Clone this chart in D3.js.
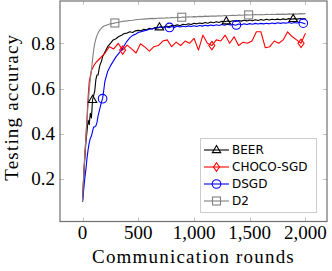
<!DOCTYPE html>
<html lang="en">
	<head>
		<meta charset="utf-8">
		<title>Testing accuracy</title>
		<script src="https://d3js.org/d3.v7.min.js"></script>
		<style type="text/css">
			body { margin: 0; background: #fff; }
			.tick-label { font-family: "Liberation Serif", serif; font-size: 19px; fill: #000; }
			.axis-title { font-family: "Liberation Serif", serif; font-size: 19px; letter-spacing: 1.2px; fill: #000; }
			.legend-text { font-family: "DejaVu Sans", sans-serif; font-size: 12px; fill: #000; }
		</style>
	</head>
	<body>
		<script type="text/javascript">

			//Rounds for BEER, DSGD and D2
			var rounds = [0, 10, 20, 30, 40, 50, 60, 70, 80, 90, 100, 110, 120, 130, 140, 150, 160, 170, 180, 190,
				200, 225, 250, 275, 300, 325, 350, 375, 400, 425, 450, 475, 500, 525, 550, 575, 600, 625, 650, 675,
				700, 725, 750, 775, 800, 825, 850, 875, 900, 925, 950, 975, 1000, 1025, 1050, 1075, 1100, 1125, 1150, 1175,
				1200, 1225, 1250, 1275, 1300, 1325, 1350, 1375, 1400, 1425, 1450, 1475, 1500, 1525, 1550, 1575, 1600, 1625, 1650, 1675,
				1700, 1725, 1750, 1775, 1800, 1825, 1850, 1875, 1900, 1925, 1950, 1975, 2000];

			var beer = [0.10, 0.20, 0.29, 0.36, 0.41, 0.46, 0.44, 0.49, 0.47, 0.55, 0.57, 0.59, 0.64, 0.66, 0.66, 0.69, 0.71, 0.72, 0.74, 0.75,
				0.76, 0.785, 0.80, 0.815, 0.82, 0.83, 0.836, 0.843, 0.845, 0.851, 0.848, 0.855, 0.857, 0.855, 0.862, 0.86, 0.866, 0.863, 0.87, 0.868,
				0.873, 0.871, 0.876, 0.873, 0.879, 0.877, 0.882, 0.878, 0.884, 0.882, 0.886, 0.883, 0.889, 0.886, 0.89, 0.887, 0.892, 0.889, 0.894, 0.891,
				0.895, 0.892, 0.897, 0.895, 0.899, 0.896, 0.90, 0.897, 0.901, 0.898, 0.902, 0.899, 0.903, 0.90, 0.904, 0.901, 0.905, 0.902, 0.906, 0.903,
				0.906, 0.904, 0.907, 0.904, 0.908, 0.905, 0.909, 0.906, 0.909, 0.907, 0.91, 0.907, 0.91];

			var dsgd = [0.10, 0.15, 0.20, 0.24, 0.29, 0.33, 0.36, 0.38, 0.39, 0.41, 0.43, 0.43, 0.435, 0.45, 0.48, 0.50, 0.52, 0.54, 0.555, 0.59,
				0.63, 0.675, 0.70, 0.72, 0.74, 0.755, 0.77, 0.79, 0.81, 0.825, 0.835, 0.84, 0.848, 0.851, 0.855, 0.858, 0.862, 0.864, 0.866, 0.87,
				0.872, 0.868, 0.873, 0.869, 0.874, 0.87, 0.876, 0.872, 0.875, 0.873, 0.877, 0.874, 0.878, 0.874, 0.879, 0.876, 0.88, 0.877, 0.881, 0.878,
				0.882, 0.879, 0.883, 0.88, 0.884, 0.881, 0.883, 0.88, 0.885, 0.882, 0.886, 0.883, 0.887, 0.884, 0.888, 0.885, 0.888, 0.886, 0.889, 0.886,
				0.89, 0.887, 0.891, 0.888, 0.891, 0.889, 0.892, 0.889, 0.892, 0.89, 0.893, 0.89, 0.885];

			var d2 = [0.10, 0.21, 0.30, 0.38, 0.46, 0.53, 0.59, 0.64, 0.68, 0.73, 0.77, 0.80, 0.82, 0.835, 0.845, 0.855, 0.862, 0.867, 0.872, 0.875,
				0.878, 0.882, 0.886, 0.888, 0.891, 0.893, 0.896, 0.898, 0.899, 0.901, 0.902, 0.904, 0.905, 0.906, 0.907, 0.908, 0.909, 0.91, 0.909, 0.911,
				0.912, 0.911, 0.913, 0.912, 0.914, 0.913, 0.915, 0.914, 0.916, 0.915, 0.917, 0.916, 0.918, 0.917, 0.919, 0.918, 0.92, 0.919, 0.92, 0.921,
				0.92, 0.922, 0.921, 0.923, 0.922, 0.923, 0.924, 0.923, 0.925, 0.924, 0.925, 0.926, 0.925, 0.926, 0.927, 0.926, 0.927, 0.926, 0.928, 0.927,
				0.928, 0.927, 0.929, 0.928, 0.929, 0.928, 0.93, 0.929, 0.93, 0.929, 0.931, 0.93, 0.931];

			//CHOCO-SGD is logged less often
			var chocoRounds = [0, 10, 20, 30, 40, 50, 60, 80, 100, 120, 140, 160, 180, 200, 240, 280, 320, 360, 400, 440,
				480, 520, 560, 600, 640, 680, 720, 760, 800, 840, 880, 920, 960, 1000, 1040, 1080, 1120, 1160, 1200, 1240,
				1280, 1320, 1360, 1400, 1440, 1480, 1520, 1560, 1600, 1640, 1680, 1720, 1760, 1800, 1840, 1880, 1920, 1960, 2000];

			var choco = [0.10, 0.21, 0.30, 0.38, 0.47, 0.56, 0.63, 0.68, 0.70, 0.715, 0.725, 0.735, 0.745, 0.755, 0.785, 0.775, 0.80, 0.77, 0.792, 0.775,
				0.757, 0.798, 0.783, 0.765, 0.785, 0.79, 0.81, 0.815, 0.785, 0.805, 0.79, 0.81, 0.80, 0.822, 0.77, 0.836, 0.80, 0.79, 0.815, 0.81,
				0.836, 0.80, 0.829, 0.79, 0.805, 0.80, 0.81, 0.851, 0.851, 0.78, 0.785, 0.81, 0.80, 0.815, 0.851, 0.83, 0.815, 0.80, 0.845];

			//Where the marks sit
			var beerMarks = [90, 690, 1290, 1890];
			var chocoMarks = [360, 1160, 1960];
			var dsgdMarks = [180, 780, 1380, 1980];
			var d2Marks = [290, 890, 1490];

			var xTicks = [0, 500, 1000, 1500, 2000];
			var yTicks = [0.2, 0.4, 0.6, 0.8];

			var names = ["BEER", "CHOCO-SGD", "DSGD", "D2"];

			var series = [
				{ name: names[0], xs: rounds, ys: beer, marks: beerMarks, color: "#000000", shape: "triangle" },
				{ name: names[1], xs: chocoRounds, ys: choco, marks: chocoMarks, color: "#ff0000", shape: "diamond" },
				{ name: names[2], xs: rounds, ys: dsgd, marks: dsgdMarks, color: "#0000ff", shape: "circle" },
				{ name: names[3], xs: rounds, ys: d2, marks: d2Marks, color: "#808080", shape: "square" }
			];

			//Width and height
			var w = 332;
			var h = 271;
			var plotLeft = 60, plotRight = 327, plotTop = 1, plotBottom = 221.5;

			var xScale = d3.scaleLinear()
					.domain([-202, 2193])
					.range([plotLeft, plotRight]);

			var yScale = d3.scaleLinear()
					.domain([0.012, 0.987])
					.range([plotBottom, plotTop]);

			var svg = d3.select("body")
						.append("svg")
						.attr("width", w)
						.attr("height", h);

			//Ticks inside the frame, on all four sides
			var tickLen = 4;
			var ticks = svg.append("g")
				.attr("stroke", "#c0c0c0")
				.attr("stroke-width", 1);

			xTicks.forEach(function(t) {
				var x = Math.round(xScale(t)) + 0.5;
				ticks.append("line").attr("x1", x).attr("x2", x).attr("y1", plotBottom).attr("y2", plotBottom - tickLen);
				ticks.append("line").attr("x1", x).attr("x2", x).attr("y1", plotTop).attr("y2", plotTop + tickLen);
			});
			yTicks.forEach(function(t) {
				var y = Math.round(yScale(t)) + 0.5;
				ticks.append("line").attr("x1", plotLeft).attr("x2", plotLeft + tickLen).attr("y1", y).attr("y2", y);
				ticks.append("line").attr("x1", plotRight).attr("x2", plotRight - tickLen).attr("y1", y).attr("y2", y);
			});

			//Tick labels
			svg.selectAll("text.xlab")
				.data(xTicks)
				.enter()
				.append("text")
				.attr("class", "tick-label xlab")
				.attr("x", function(d) { return xScale(d); })
				.attr("y", 239)
				.attr("text-anchor", "middle")
				.text(d3.format(","));

			svg.selectAll("text.ylab")
				.data(yTicks)
				.enter()
				.append("text")
				.attr("class", "tick-label ylab")
				.attr("x", 55)
				.attr("y", function(d) { return yScale(d) + 6.5; })
				.attr("text-anchor", "end")
				.text(d3.format(".1f"));

			//Lines
			var line = d3.line()
				.x(function(d) { return xScale(d[0]); })
				.y(function(d) { return yScale(d[1]); });

			series.forEach(function(s) {
				svg.append("path")
					.datum(d3.zip(s.xs, s.ys))
					.attr("fill", "none")
					.attr("stroke", s.color)
					.attr("stroke-width", 1.1)
					.attr("stroke-linejoin", "round")
					.attr("d", line);
			});

			//Value on the line at round x
			function valueAt(xs, ys, x) {
				var i = d3.bisectLeft(xs, x);
				if (i <= 0) return ys[0];
				if (i >= xs.length) return ys[ys.length - 1];
				var t = (x - xs[i - 1]) / (xs[i] - xs[i - 1]);
				return ys[i - 1] + t * (ys[i] - ys[i - 1]);
			}

			function drawMark(g, shape, cx, cy, color) {
				if (shape === "circle") {
					g.append("circle").attr("cx", cx).attr("cy", cy).attr("r", 4.3)
						.attr("fill", "none").attr("stroke", color).attr("stroke-width", 1.1);
				} else if (shape === "square") {
					g.append("rect").attr("x", cx - 4).attr("y", cy - 4).attr("width", 8).attr("height", 8)
						.attr("fill", "none").attr("stroke", color).attr("stroke-width", 1.1);
				} else if (shape === "triangle") {
					g.append("path")
						.attr("d", "M" + cx + "," + (cy - 4.5) + "L" + (cx + 4.2) + "," + (cy + 2.6) + "L" + (cx - 4.2) + "," + (cy + 2.6) + "Z")
						.attr("fill", "none").attr("stroke", color).attr("stroke-width", 1.1);
				} else {
					g.append("path")
						.attr("d", "M" + cx + "," + (cy - 4.2) + "L" + (cx + 3) + "," + cy + "L" + cx + "," + (cy + 4.2) + "L" + (cx - 3) + "," + cy + "Z")
						.attr("fill", "none").attr("stroke", color).attr("stroke-width", 1.1);
				}
			}

			var markLayer = svg.append("g");
			series.forEach(function(s) {
				s.marks.forEach(function(m) {
					drawMark(markLayer, s.shape, xScale(m), yScale(valueAt(s.xs, s.ys, m)), s.color);
				});
			});

			//Frame
			svg.append("rect")
				.attr("x", plotLeft)
				.attr("y", plotTop)
				.attr("width", plotRight - plotLeft)
				.attr("height", plotBottom - plotTop)
				.attr("fill", "none")
				.attr("stroke", "#707070")
				.attr("stroke-width", 1.2);

			//Axis titles
			svg.append("text")
				.attr("class", "axis-title")
				.attr("x", (plotLeft + plotRight) / 2)
				.attr("y", 262.5)
				.attr("text-anchor", "middle")
				.text("Communication rounds");

			svg.append("text")
				.attr("class", "axis-title")
				.attr("transform", "translate(18," + ((plotTop + plotBottom) / 2 - 4) + ") rotate(-90)")
				.attr("text-anchor", "middle")
				.text("Testing accuracy");

			//Legend
			var legend = svg.append("g");
			legend.append("rect")
				.attr("x", 200.5)
				.attr("y", 138.5)
				.attr("width", 116)
				.attr("height", 74)
				.attr("fill", "#ffffff")
				.attr("stroke", "#cccccc")
				.attr("stroke-width", 1);

			series.forEach(function(s, i) {
				var cy = 150 + i * 17;
				legend.append("line")
					.attr("x1", 204).attr("x2", 229)
					.attr("y1", cy).attr("y2", cy)
					.attr("stroke", s.color)
					.attr("stroke-width", 1.1);
				drawMark(legend, s.shape, 216.5, cy, s.color);
				legend.append("text")
					.attr("class", "legend-text")
					.attr("x", 232)
					.attr("y", cy + 4.3)
					.text(s.name);
			});

		</script>
	</body>
</html>
